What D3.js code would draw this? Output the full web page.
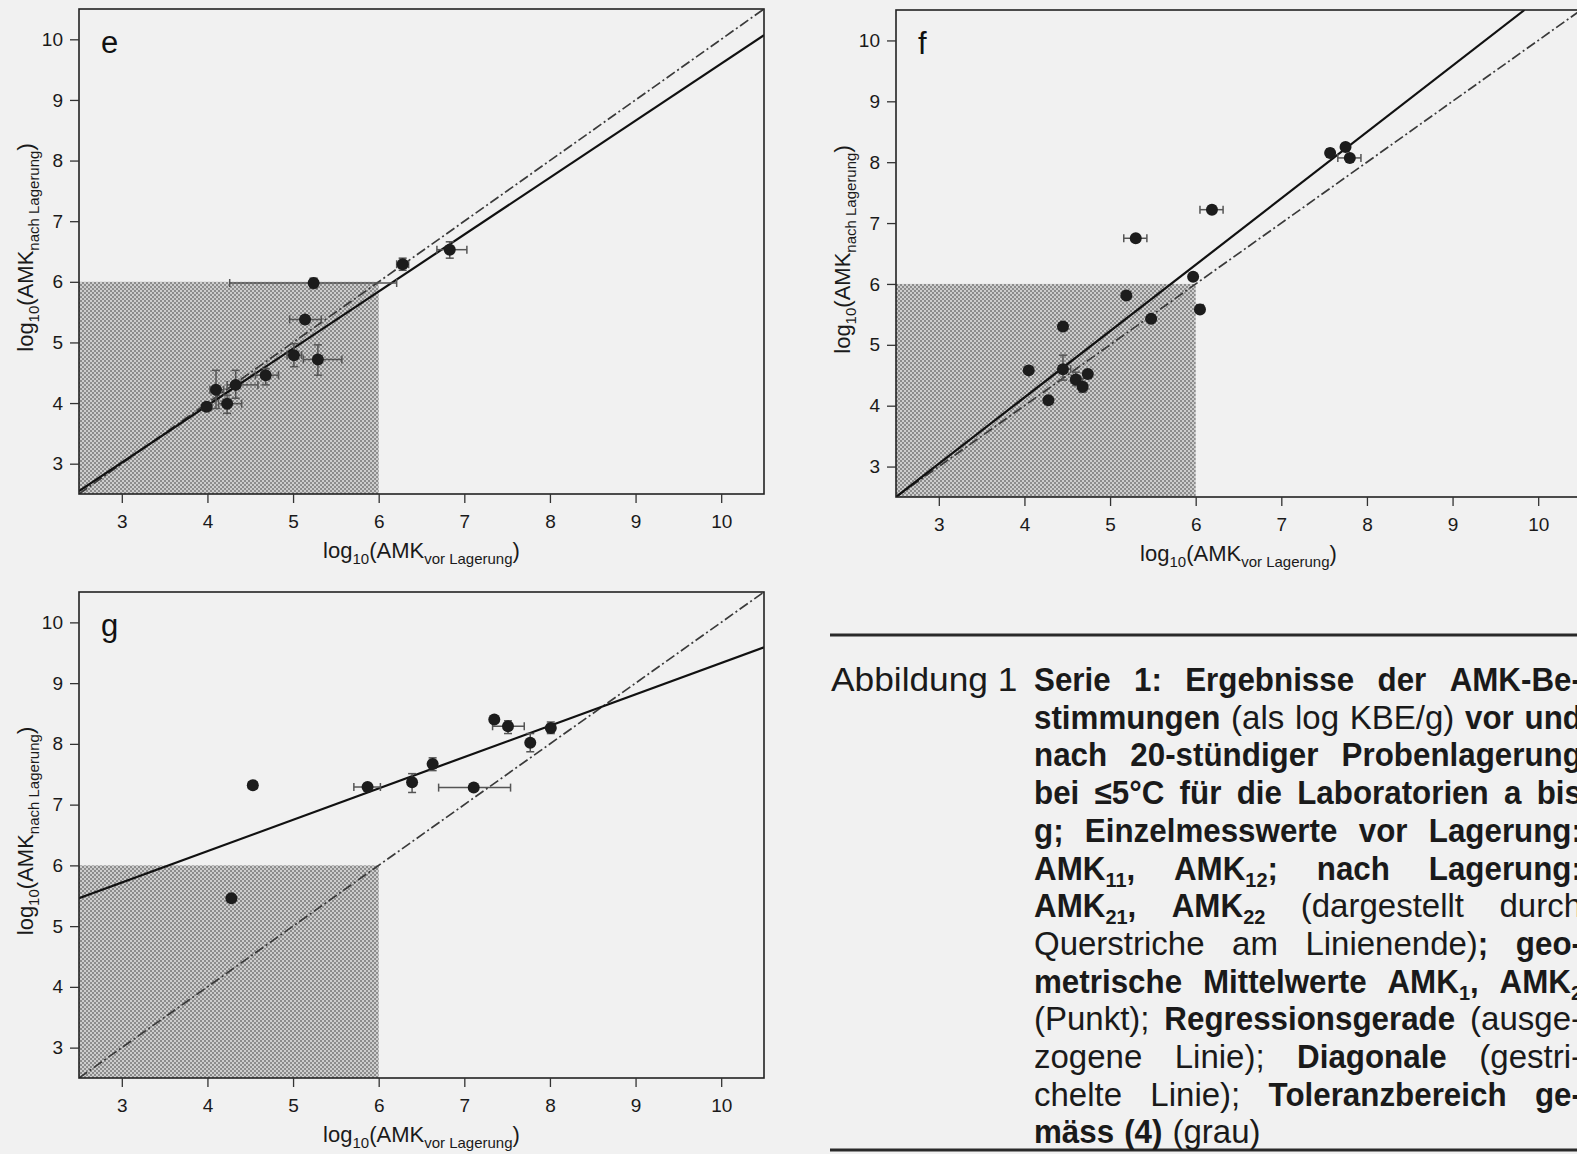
<!DOCTYPE html>
<html>
<head>
<meta charset="utf-8">
<script src="https://cdn.jsdelivr.net/npm/d3@7"></script>
<style>
  html, body { margin: 0; padding: 0; background: #f1f1f1; }
  svg { display: block; font-family: "Liberation Sans", Arial, sans-serif; }
</style>
</head>
<body>
<script>
// axis ticks shared by all panels
const tickValues = [3, 4, 5, 6, 7, 8, 9, 10];
const axisDomain = [2.5, 10.5];
const toleranceLimit = 6;

// points: [x mean, y mean, x low, x high, y low, y high]  (log10 KBE/g)
const pointsE = [
  [3.99, 3.94, 3.94, 4.05, 3.88, 4.00],
  [4.10, 4.22, 4.03, 4.19, 3.91, 4.54],
  [4.23, 3.99, 4.13, 4.40, 3.83, 4.13],
  [4.33, 4.30, 4.23, 4.59, 4.08, 4.54],
  [4.68, 4.46, 4.56, 4.83, 4.30, 4.57],
  [5.01, 4.79, 4.93, 5.10, 4.60, 4.98],
  [5.29, 4.72, 5.12, 5.57, 4.46, 4.96],
  [5.14, 5.38, 4.96, 5.33, 5.34, 5.42],
  [5.24, 5.98, 4.26, 6.21, 5.89, 6.06],
  [6.28, 6.29, 6.21, 6.35, 6.19, 6.39],
  [6.83, 6.53, 6.68, 7.03, 6.39, 6.66]
];
const pointsF = [
  [4.05, 4.58, 4.05, 4.05, 4.58, 4.58],
  [4.28, 4.09, 4.28, 4.28, 4.09, 4.09],
  [4.45, 5.30, 4.45, 4.45, 5.30, 5.30],
  [4.45, 4.60, 4.40, 4.54, 4.42, 4.83],
  [4.60, 4.43, 4.55, 4.65, 4.33, 4.55],
  [4.68, 4.31, 4.64, 4.72, 4.22, 4.45],
  [4.74, 4.52, 4.74, 4.74, 4.52, 4.52],
  [5.19, 5.81, 5.19, 5.19, 5.81, 5.81],
  [5.48, 5.43, 5.48, 5.48, 5.43, 5.43],
  [5.97, 6.12, 5.97, 5.97, 6.12, 6.12],
  [6.05, 5.58, 6.02, 6.08, 5.52, 5.66],
  [5.30, 6.75, 5.16, 5.43, 6.75, 6.75],
  [6.19, 7.22, 6.05, 6.32, 7.17, 7.28],
  [7.57, 8.15, 7.57, 7.57, 8.10, 8.22],
  [7.75, 8.25, 7.75, 7.75, 8.25, 8.25],
  [7.80, 8.07, 7.66, 7.93, 8.07, 8.07]
];
const pointsG = [
  [4.53, 7.32, 4.48, 4.58, 7.29, 7.35],
  [4.28, 5.46, 4.28, 4.28, 5.46, 5.46],
  [5.87, 7.29, 5.71, 6.02, 7.29, 7.29],
  [6.39, 7.37, 6.39, 6.39, 7.20, 7.51],
  [6.63, 7.67, 6.63, 6.63, 7.56, 7.77],
  [7.11, 7.28, 6.70, 7.54, 7.28, 7.28],
  [7.35, 8.40, 7.35, 7.35, 8.40, 8.40],
  [7.51, 8.29, 7.33, 7.70, 8.17, 8.38],
  [7.77, 8.02, 7.77, 7.77, 7.87, 8.17],
  [8.01, 8.26, 8.01, 8.01, 8.17, 8.36]
];

// regression lines (end points) and the diagonal
const regressionE = [[2.5, 2.55], [10.5, 10.07]];
const regressionF = [[2.5, 2.5], [9.84, 10.5]];
const regressionG = [[2.5, 5.46], [10.5, 9.59]];
const diagonal = [[2.5, 2.5], [10.5, 10.5]];

const captionLines = [
  [['b', 'Serie 1: Ergebnisse der AMK-Be-']],
  [['b', 'stimmungen '], ['r', '(als log KBE/g) '], ['b', 'vor und']],
  [['b', 'nach 20-stündiger Probenlagerung']],
  [['b', 'bei ≤5°C für die Laboratorien a bis']],
  [['b', 'g; Einzelmesswerte vor Lagerung:']],
  [['b', 'AMK_11, AMK_12; nach Lagerung:']],
  [['b', 'AMK_21, AMK_22 '], ['r', '(dargestellt durch']],
  [['r', 'Querstriche am Linienende)'], ['b', '; geo-']],
  [['b', 'metrische Mittelwerte AMK_1, AMK_2']],
  [['r', '(Punkt); '], ['b', 'Regressionsgerade '], ['r', '(ausge-']],
  [['r', 'zogene Linie); '], ['b', 'Diagonale '], ['r', '(gestri-']],
  [['r', 'chelte Linie); '], ['b', 'Toleranzbereich ge-']],
  [['b', 'mäss (4) '], ['r', '(grau)']]
];

const W = 1577, H = 1154;
const svg = d3.select('body').append('svg')
  .attr('width', W)
  .attr('height', H);

svg.append('rect').attr('width', W).attr('height', H).attr('fill', '#f1f1f1');

// stippled grey fill of the tolerance area
const defs = svg.append('defs');
const pat = defs.append('pattern')
  .attr('id', 'stipple')
  .attr('width', 4).attr('height', 4)
  .attr('patternUnits', 'userSpaceOnUse');
pat.append('rect').attr('width', 4).attr('height', 4).attr('fill', '#cdcdcd');
pat.append('rect').attr('x', 0).attr('y', 0).attr('width', 2).attr('height', 2).attr('fill', '#8c8c8c');
pat.append('rect').attr('x', 2).attr('y', 2).attr('width', 2).attr('height', 2).attr('fill', '#8c8c8c');

function drawPanel(cfg, idx) {
  const pw = 685, ph = cfg.height;
  const x = d3.scaleLinear().domain(axisDomain).range([cfg.left, cfg.left + pw]);
  const y = d3.scaleLinear().domain(axisDomain).range([cfg.top + ph, cfg.top]);
  const g = svg.append('g');

  defs.append('clipPath').attr('id', 'clip' + idx)
    .append('rect')
    .attr('x', cfg.left).attr('y', cfg.top)
    .attr('width', pw).attr('height', ph);

  // tolerance area
  g.append('rect')
    .attr('x', x(axisDomain[0]))
    .attr('y', y(toleranceLimit))
    .attr('width', x(toleranceLimit) - x(axisDomain[0]))
    .attr('height', y(axisDomain[0]) - y(toleranceLimit))
    .attr('fill', 'url(#stipple)');

  const line = d3.line().x(d => x(d[0])).y(d => y(d[1]));
  const lines = g.append('g').attr('clip-path', `url(#clip${idx})`);

  lines.append('path')
    .datum(diagonal)
    .attr('d', line)
    .attr('fill', 'none')
    .attr('stroke', '#3a3a3a')
    .attr('stroke-width', 1.7)
    .attr('stroke-dasharray', '10,3,2,3');

  lines.append('path')
    .datum(cfg.regression)
    .attr('d', line)
    .attr('fill', 'none')
    .attr('stroke', '#111')
    .attr('stroke-width', 2.2);

  // error bars (single measurements) and geometric means
  const bars = g.append('g')
    .attr('stroke', '#555')
    .attr('stroke-width', 1.5)
    .attr('fill', 'none');
  const cap = 4;
  cfg.points.forEach(p => {
    if (p[3] - p[2] > 0.02) {
      bars.append('line').attr('x1', x(p[2])).attr('x2', x(p[3])).attr('y1', y(p[1])).attr('y2', y(p[1]));
      bars.append('line').attr('x1', x(p[2])).attr('x2', x(p[2])).attr('y1', y(p[1]) - cap).attr('y2', y(p[1]) + cap);
      bars.append('line').attr('x1', x(p[3])).attr('x2', x(p[3])).attr('y1', y(p[1]) - cap).attr('y2', y(p[1]) + cap);
    }
    if (p[5] - p[4] > 0.02) {
      bars.append('line').attr('x1', x(p[0])).attr('x2', x(p[0])).attr('y1', y(p[4])).attr('y2', y(p[5]));
      bars.append('line').attr('x1', x(p[0]) - cap).attr('x2', x(p[0]) + cap).attr('y1', y(p[4])).attr('y2', y(p[4]));
      bars.append('line').attr('x1', x(p[0]) - cap).attr('x2', x(p[0]) + cap).attr('y1', y(p[5])).attr('y2', y(p[5]));
    }
  });

  g.append('g').selectAll('circle')
    .data(cfg.points)
    .join('circle')
    .attr('cx', d => x(d[0]))
    .attr('cy', d => y(d[1]))
    .attr('r', 6)
    .attr('fill', '#1c1c1c');

  // frame
  g.append('rect')
    .attr('x', cfg.left).attr('y', cfg.top)
    .attr('width', pw).attr('height', ph)
    .attr('fill', 'none')
    .attr('stroke', '#222')
    .attr('stroke-width', 1.6);

  // axes
  const xAxis = g.append('g')
    .attr('transform', `translate(0,${cfg.top + ph})`)
    .call(d3.axisBottom(x).tickValues(tickValues).tickSize(9).tickPadding(12));
  const yAxis = g.append('g')
    .attr('transform', `translate(${cfg.left},0)`)
    .call(d3.axisLeft(y).tickValues(tickValues).tickSize(9).tickPadding(7));
  [xAxis, yAxis].forEach(a => {
    a.select('.domain').remove();
    a.selectAll('line').attr('stroke', '#333').attr('stroke-width', 1.3);
    a.selectAll('text')
      .attr('font-family', '"Liberation Sans", Arial, sans-serif')
      .attr('font-size', 19)
      .attr('fill', '#1a1a1a');
  });

  // axis titles
  const xt = g.append('text')
    .attr('x', cfg.left + pw / 2)
    .attr('y', cfg.top + ph + 64)
    .attr('text-anchor', 'middle')
    .attr('font-size', 22)
    .attr('fill', '#1a1a1a');
  xt.append('tspan').text('log');
  xt.append('tspan').attr('font-size', 15).attr('dy', 6).text('10');
  xt.append('tspan').attr('dy', -6).text('(AMK');
  xt.append('tspan').attr('font-size', 15).attr('dy', 6).text('vor Lagerung');
  xt.append('tspan').attr('dy', -6).text(')');

  const yt = g.append('text')
    .attr('transform', `translate(${cfg.left - 46},${cfg.top + ph / 2 - 4}) rotate(-90)`)
    .attr('text-anchor', 'middle')
    .attr('font-size', 22)
    .attr('fill', '#1a1a1a');
  yt.append('tspan').text('log');
  yt.append('tspan').attr('font-size', 15).attr('dy', 6).text('10');
  yt.append('tspan').attr('dy', -6).text('(AMK');
  yt.append('tspan').attr('font-size', 15).attr('dy', 6).text('nach Lagerung');
  yt.append('tspan').attr('dy', -6).text(')');

  // panel letter
  g.append('text')
    .attr('x', cfg.left + 22)
    .attr('y', cfg.top + 44)
    .attr('font-size', 31)
    .attr('fill', '#111')
    .text(cfg.letter);
}

const panels = [
  { letter: 'e', left: 79, top: 9, height: 485, points: pointsE, regression: regressionE },
  { letter: 'f', left: 896, top: 10, height: 487, points: pointsF, regression: regressionF },
  { letter: 'g', left: 79, top: 592, height: 486, points: pointsG, regression: regressionG }
];
panels.forEach(drawPanel);

// caption block
const capG = svg.append('g').attr('fill', '#1a1a1a');
const capLeft = 1034, capRight = 1582, capTop = 691, capLead = 37.7;
const fontSize = 33, subSize = 21, boldScale = 0.95, regScale = 1.0;

capG.append('line')
  .attr('x1', 830).attr('x2', W).attr('y1', 635).attr('y2', 635)
  .attr('stroke', '#2a2a2a').attr('stroke-width', 2.8);
capG.append('line')
  .attr('x1', 830).attr('x2', W).attr('y1', 1150).attr('y2', 1150)
  .attr('stroke', '#2a2a2a').attr('stroke-width', 2.8);

capG.append('text')
  .attr('transform', `translate(831,${capTop}) scale(1.07,1)`)
  .attr('font-size', fontSize)
  .text('Abbildung 1');

function toWords(line) {
  const words = [];
  let cur = [];
  line.forEach(([style, txt]) => {
    txt.split(/( )/).forEach(tok => {
      if (tok === ' ') {
        if (cur.length) words.push(cur);
        cur = [];
      } else if (tok) {
        tok.split(/_(\d+)/).forEach((part, i) => {
          if (part) cur.push({ t: part, b: style === 'b', sub: i % 2 === 1 });
        });
      }
    });
  });
  if (cur.length) words.push(cur);
  return words;
}

captionLines.forEach((line, li) => {
  const y = capTop + li * capLead;
  const words = toWords(line).map(pieces => {
    const els = pieces.map(p => {
      const s = p.b ? boldScale : regScale;
      const t = capG.append('text')
        .attr('font-size', p.sub ? subSize : fontSize)
        .attr('font-weight', p.b ? 'bold' : 'normal')
        .text(p.t);
      return { t, s, w: t.node().getComputedTextLength() * s, sub: p.sub };
    });
    return { els, w: d3.sum(els, e => e.w) };
  });
  const last = li === captionLines.length - 1;
  const total = d3.sum(words, w => w.w);
  const gap = last ? 10 : (capRight - capLeft - total) / (words.length - 1);
  let xPos = capLeft;
  words.forEach(w => {
    w.els.forEach(e => {
      e.t.attr('transform', `translate(${xPos},${y + (e.sub ? 7 : 0)}) scale(${e.s},1)`);
      xPos += e.w;
    });
    xPos += gap;
  });
});
</script>
</body>
</html>
